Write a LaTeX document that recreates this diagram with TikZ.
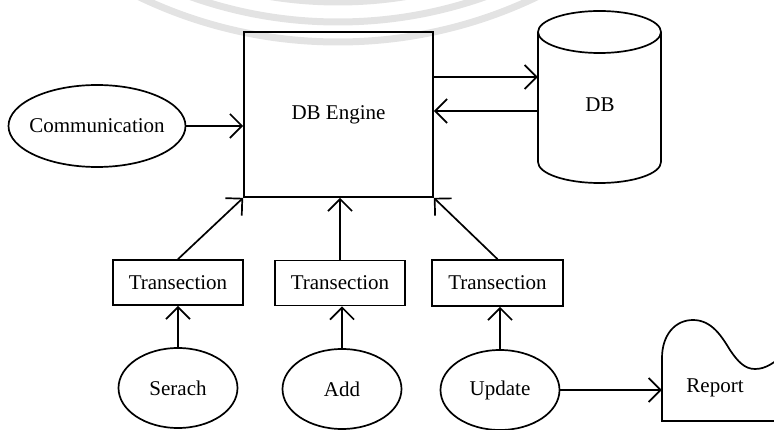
\documentclass[tikz,border=0pt]{standalone}
\usepackage{fontspec}
\setmainfont{Liberation Serif}
\usetikzlibrary{arrows.meta,shapes.geometric}

\begin{document}
\begin{tikzpicture}[x=1pt,y=-1pt,
  every node/.style={font=\fontsize{21}{25}\selectfont},
  ln/.style={line width=1.7pt},
  box/.style={ln,draw,rectangle,inner sep=0pt},
  oval/.style={ln,draw,ellipse,inner sep=0pt},
  area/.style={rectangle,inner sep=0pt},
  arr/.style={ln,-{Straight Barb[length=12pt,width=24pt,line width=1.7pt]}},
  ring/.style={line width=7pt,color=black!11}
]
\useasboundingbox (0,0) rectangle (774,430);
\clip (0,0) rectangle (774,430);

% faint rings at the top edge
\draw[ring] (338,-418) circle[radius=460];
\draw[ring] (338,-418) circle[radius=440];
\draw[ring] (338,-418) circle[radius=420];

% engine and the database
\node[box,minimum width=189pt,minimum height=165pt] (engine) at (338.5,114.5) {DB Engine};
\node[oval,inner xsep=-6pt,minimum width=177pt,minimum height=82pt] (comm) at (97,126) {Communication};

\node[area,minimum width=123pt,minimum height=172pt] (db) at (599.5,97) {};
\draw[ln] (599.5,32) ellipse[x radius=61.5,y radius=21];
\draw[ln] (538,32) -- (538,162) arc[start angle=180,end angle=0,x radius=61.5,y radius=21] -- (661,32);
\node at (600,105) {DB};

% transaction boxes
\node[box,minimum width=130pt,minimum height=45pt] (t1) at (178,282.5) {Transection};
\node[box,minimum width=130pt,minimum height=45pt] (t2) at (340,283) {Transection};
\node[box,minimum width=131pt,minimum height=46pt] (t3) at (497.5,283) {Transection};

% operations
\node[oval,minimum width=119pt,minimum height=80pt] (s) at (178,388) {Serach};
\node[oval,minimum width=119pt,minimum height=80pt] (a) at (342,389) {Add};
\node[oval,minimum width=119pt,minimum height=80pt] (u) at (500,390) {Update};

% report document
\node[area,minimum width=130pt,minimum height=101pt] (report) at (727,370.5) {};
\draw[ln] (800,421) -- (662,421) -- (662,358)
  .. controls (662,335) and (675,320) .. (693,320)
  .. controls (712,320) and (722,337) .. (730,350)
  .. controls (738,362) and (745,369) .. (755,369)
  .. controls (766,369) and (774,363) .. (790,350);
\node at (715,388) {Report};

% connectors
\draw[arr] (comm.east) -- (comm.east -| engine.west);
\draw[arr] (engine.east |- 0,77) -- (db.west |- 0,77);
\draw[arr] (db.west |- 0,111) -- (engine.east |- 0,111);

\draw[arr] (s.north) -- (t1.south);
\draw[arr] (a.north) -- (a.north |- t2.south);
\draw[arr] (u.north) -- (u.north |- t3.south);

\draw[arr] (t1.north) -- (engine.south west);
\draw[arr] (t2.north) -- (t2.north |- engine.south);
\draw[arr] (t3.north) -- (engine.south east);

\draw[arr] (u.east) -- (u.east -| report.west);
\end{tikzpicture}
\end{document}
